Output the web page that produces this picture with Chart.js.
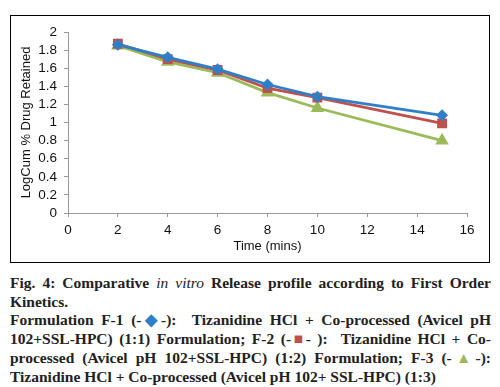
<!DOCTYPE html>
<html>
<head>
<meta charset="utf-8">
<script src="https://cdn.jsdelivr.net/npm/chart.js@4"></script>
<style>
  body { margin: 0; background: #fff; width: 500px; height: 387px; overflow: hidden; position: relative; }
  #box { position: absolute; left: 10px; top: 15px; width: 478px; height: 246px; border: 1px solid #000; }
  #caption { position: absolute; left: 10px; top: 274px; width: 481px; font-family: "Liberation Serif", serif; font-weight: bold; font-size: 15.5px; line-height: 18.7px; color: #222; }
  #caption div { text-align: justify; text-align-last: justify; white-space: nowrap; }
  #caption div.last { text-align-last: left; }
  .f1 { color: #2f7fc8; } .f2 { color: #c0504d; } .f3 { color: #9bbb59; }
</style>
</head>
<body>
<div id="box"><canvas id="chart" width="478" height="246"></canvas></div>
<div id="caption">
<div>Fig. 4: Comparative <i style="font-weight:normal">in vitro</i> Release profile according to First Order</div>
<div class="last">Kinetics.</div>
<div>Formulation F-1 (-<span class="f1">◆</span>-): &nbsp;Tizanidine HCl + Co-processed (Avicel pH</div>
<div>102+SSL-HPC) (1:1) Formulation; F-2 (-<span class="f2">■</span>- ): &nbsp;Tizanidine HCl + Co-</div>
<div>processed (Avicel pH 102+SSL-HPC) (1:2) Formulation; F-3 (-<span class="f3">▲</span>-):</div>
<div class="last">Tizanidine HCl + Co-processed (Avicel pH 102+ SSL-HPC) (1:3)</div>
</div>
<script>
const times = [2, 4, 6, 8, 10, 15];
const f1 = [1.86, 1.72, 1.59, 1.42, 1.285, 1.08];
const f2 = [1.87, 1.70, 1.58, 1.38, 1.275, 0.99];
const f3 = [1.85, 1.67, 1.55, 1.33, 1.16, 0.80];
const seriesNames = ["F-1", "F-2", "F-3"];

function pts(vals) {
    return vals.map((v, i) => ({ x: times[i], y: v }));
}

const ctx = document.getElementById("chart").getContext("2d");
const tickFont = { family: "Liberation Sans, Arial", size: 13.5 };
const titleFont = { family: "Liberation Sans, Arial", size: 13 };
// axis with small outside tick marks, no gridlines
const axisGrid = { display: true, drawOnChartArea: false, drawTicks: true, tickLength: 4, color: "#999" };

new Chart(ctx, {
    type: "line",
    data: {
        datasets: [
            { label: seriesNames[0], data: pts(f1), borderColor: "#2f7fc8", backgroundColor: "#2f7fc8", pointStyle: "rectRot", pointRadius: 4, borderWidth: 2.8 },
            { label: seriesNames[1], data: pts(f2), borderColor: "#c0504d", backgroundColor: "#c0504d", pointStyle: "rect", pointRadius: 5, borderWidth: 2.8 },
            { label: seriesNames[2], data: pts(f3), borderColor: "#9bbb59", backgroundColor: "#9bbb59", pointStyle: "triangle", pointRadius: 5, borderWidth: 2.8 }
        ]
    },
    options: {
        responsive: false,
        animation: false,
        layout: { padding: { top: 16, right: 22, left: 0, bottom: 0 } },
        plugins: { legend: { display: false }, tooltip: { enabled: false } },
        scales: {
            x: {
                type: "linear",
                min: 0,
                max: 16,
                ticks: { stepSize: 2, color: "#111", font: tickFont, padding: 5, autoSkip: false },
                grid: axisGrid,
                border: { color: "#999" },
                title: { display: true, text: "Time (mins)", color: "#111", font: titleFont, padding: { top: 0, bottom: 8 } },
                afterFit: (s) => { s.height = 49; }
            },
            y: {
                min: 0,
                max: 2,
                ticks: {
                    stepSize: 0.2, color: "#111", font: tickFont, padding: 7, autoSkip: false,
                    callback: (v) => String(Math.round(v * 10) / 10)
                },
                grid: axisGrid,
                border: { color: "#999" },
                title: { display: true, text: "LogCum % Drug Retained", color: "#111", font: titleFont, padding: { top: 8, bottom: 0 } },
                afterFit: (s) => { s.width = 57; }
            }
        }
    }
});
</script>
</body>
</html>
